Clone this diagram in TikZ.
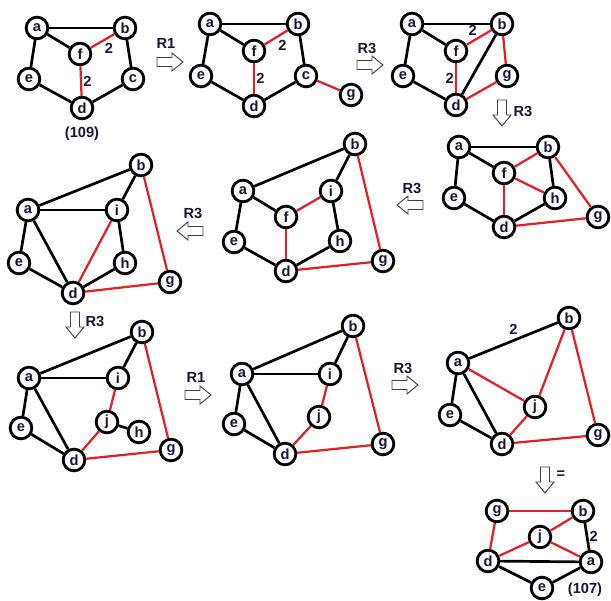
\documentclass[tikz,border=0pt]{standalone}
\usepackage{fontspec}
\setmainfont{Liberation Sans}

\definecolor{edgered}{RGB}{228,30,38}
\definecolor{ink}{RGB}{22,22,55}

\tikzset{
	vert/.style={draw, circle, fill=white, line width=2.4pt, minimum size=0.65cm,
		inner sep=0pt, text=ink, font=\bfseries\fontsize{12.5}{12.5}\selectfont},
	ln/.style={line width=2.3pt},
	hl/.style={line width=1.9pt, draw=edgered},
	lbl/.style={text=ink, inner sep=1pt, font=\bfseries\fontsize{12.5}{12.5}\selectfont},
	rarr/.pic={\draw[line width=0.8pt, draw=black!75, fill=white]
		(-13,-4.5) -- (2,-4.5) -- (2,-9) -- (13,0) -- (2,9) -- (2,4.5) -- (-13,4.5) -- cycle;}
}

\begin{document}
\begin{tikzpicture}[x=0.03cm, y=-0.03cm]
	\useasboundingbox (0,0) rectangle (611,601);

	% (109)
	\node[vert] (a1) at (37,28) {a};
	\node[vert] (b1) at (125,28) {b};
	\node[vert] (f1) at (80,54) {f};
	\node[vert] (e1) at (29,79) {e};
	\node[vert] (c1) at (133,79) {c};
	\node[vert] (d1) at (82,108) {d};
	\draw[ln] (a1) -- (b1);
	\draw[ln] (a1) -- (f1);
	\draw[ln] (a1) -- (e1);
	\draw[ln] (e1) -- (d1);
	\draw[ln] (b1) -- (c1);
	\draw[ln] (c1) -- (d1);
	\draw[hl] (f1) -- node[lbl, below right] (w1a) {2} (b1);
	\draw[hl] (f1) -- node[lbl, right] (w1b) {2} (d1);
	\node[lbl] (n109) at (82,134) {(109)};

	\pic at (170,62) {rarr};
	\node[lbl] (r1) at (166,43) {R1};

	\node[vert] (a2) at (210,24) {a};
	\node[vert] (b2) at (298,24) {b};
	\node[vert] (f2) at (254,51) {f};
	\node[vert] (e2) at (201,76) {e};
	\node[vert] (c2) at (306,76) {c};
	\node[vert] (d2) at (254,106) {d};
	\node[vert] (g2) at (351,95) {g};
	\draw[ln] (a2) -- (b2);
	\draw[ln] (a2) -- (f2);
	\draw[ln] (a2) -- (e2);
	\draw[ln] (e2) -- (d2);
	\draw[ln] (b2) -- (c2);
	\draw[ln] (c2) -- (d2);
	\draw[hl] (f2) -- node[lbl, below right] (w2a) {2} (b2);
	\draw[hl] (f2) -- node[lbl, right] (w2b) {2} (d2);
	\draw[hl] (c2) -- (g2);

	\pic at (370,65) {rarr};
	\node[lbl] (r2) at (367,48) {R3};

	\node[vert] (a3) at (412,24) {a};
	\node[vert] (b3) at (502,24) {b};
	\node[vert] (f3) at (456,51) {f};
	\node[vert] (e3) at (403,76) {e};
	\node[vert] (g3) at (507,76) {g};
	\node[vert] (d3) at (456,105) {d};
	\draw[ln] (a3) -- (b3);
	\draw[ln] (a3) -- (f3);
	\draw[ln] (a3) -- (e3);
	\draw[ln] (e3) -- (d3);
	\draw[ln] (b3) -- (d3);
	\draw[hl] (f3) -- node[lbl, above left] (w3a) {2} (b3);
	\draw[hl] (f3) -- node[lbl, left] (w3b) {2} (d3);
	\draw[hl] (b3) -- (g3);
	\draw[hl] (g3) -- (d3);

	\pic[rotate=-90] at (502,113) {rarr};
	\node[lbl] (r3) at (523,111) {R3};

	\node[vert] (a4) at (459,147) {a};
	\node[vert] (b4) at (548,147) {b};
	\node[vert] (f4) at (504,173) {f};
	\node[vert] (e4) at (454,198) {e};
	\node[vert] (h4) at (555,198) {h};
	\node[vert] (d4) at (504,227) {d};
	\node[vert] (g4) at (598,217) {g};
	\draw[ln] (a4) -- (b4);
	\draw[ln] (a4) -- (f4);
	\draw[ln] (a4) -- (e4);
	\draw[ln] (e4) -- (d4);
	\draw[ln] (b4) -- (h4);
	\draw[ln] (h4) -- (d4);
	\draw[hl] (b4) -- (f4);
	\draw[hl] (f4) -- (h4);
	\draw[hl] (f4) -- (d4);
	\draw[hl] (b4) -- (g4);
	\draw[hl] (d4) -- (g4);

	\pic[rotate=180] at (410,205) {rarr};
	\node[lbl] (r4) at (412,188) {R3};

	\node[vert] (b5) at (355,144) {b};
	\node[vert] (a5) at (243,191) {a};
	\node[vert] (i5) at (331,191) {i};
	\node[vert] (f5) at (286,217) {f};
	\node[vert] (e5) at (234,242) {e};
	\node[vert] (h5) at (340,241) {h};
	\node[vert] (d5) at (286,271) {d};
	\node[vert] (g5) at (383,261) {g};
	\draw[ln] (a5) -- (b5);
	\draw[ln] (a5) -- (f5);
	\draw[ln] (a5) -- (e5);
	\draw[ln] (e5) -- (d5);
	\draw[ln] (b5) -- (i5);
	\draw[ln] (i5) -- (h5);
	\draw[ln] (h5) -- (d5);
	\draw[hl] (f5) -- (i5);
	\draw[hl] (f5) -- (d5);
	\draw[hl] (b5) -- (g5);
	\draw[hl] (d5) -- (g5);

	\pic[rotate=180] at (190,231) {rarr};
	\node[lbl] (r5) at (193,213) {R3};

	\node[vert] (b6) at (141,165) {b};
	\node[vert] (a6) at (28,210) {a};
	\node[vert] (i6) at (117,210) {i};
	\node[vert] (e6) at (19,263) {e};
	\node[vert] (h6) at (125,263) {h};
	\node[vert] (d6) at (73,293) {d};
	\node[vert] (g6) at (170,282) {g};
	\draw[ln] (a6) -- (b6);
	\draw[ln] (a6) -- (i6);
	\draw[ln] (a6) -- (e6);
	\draw[ln] (a6) -- (d6);
	\draw[ln] (e6) -- (d6);
	\draw[ln] (b6) -- (i6);
	\draw[ln] (i6) -- (h6);
	\draw[ln] (h6) -- (d6);
	\draw[hl] (i6) -- (d6);
	\draw[hl] (b6) -- (g6);
	\draw[hl] (d6) -- (g6);

	\pic[rotate=-90] at (75,325) {rarr};
	\node[lbl] (r6) at (95,321) {R3};

	\node[vert] (b7) at (142,332) {b};
	\node[vert] (a7) at (29,378) {a};
	\node[vert] (i7) at (118,378) {i};
	\node[vert] (j7) at (107,422) {j};
	\node[vert] (h7) at (139,432) {h};
	\node[vert] (e7) at (21,428) {e};
	\node[vert] (d7) at (74,460) {d};
	\node[vert] (g7) at (171,450) {g};
	\draw[ln] (a7) -- (b7);
	\draw[ln] (a7) -- (i7);
	\draw[ln] (a7) -- (e7);
	\draw[ln] (a7) -- (d7);
	\draw[ln] (e7) -- (d7);
	\draw[ln] (b7) -- (i7);
	\draw[ln] (j7) -- (h7);
	\draw[hl] (i7) -- (j7);
	\draw[hl] (j7) -- (d7);
	\draw[hl] (b7) -- (g7);
	\draw[hl] (d7) -- (g7);

	\pic at (198,395) {rarr};
	\node[lbl] (r7) at (196,377) {R1};

	\node[vert] (b8) at (353,326) {b};
	\node[vert] (a8) at (242,374) {a};
	\node[vert] (i8) at (330,374) {i};
	\node[vert] (j8) at (319,417) {j};
	\node[vert] (e8) at (234,424) {e};
	\node[vert] (d8) at (285,454) {d};
	\node[vert] (g8) at (383,444) {g};
	\draw[ln] (a8) -- (b8);
	\draw[ln] (a8) -- (i8);
	\draw[ln] (a8) -- (e8);
	\draw[ln] (a8) -- (d8);
	\draw[ln] (e8) -- (d8);
	\draw[ln] (b8) -- (i8);
	\draw[hl] (i8) -- (j8);
	\draw[hl] (j8) -- (d8);
	\draw[hl] (b8) -- (g8);
	\draw[hl] (d8) -- (g8);

	\pic at (405,385) {rarr};
	\node[lbl] (r8) at (403,368) {R3};

	\node[vert] (b9) at (569,318) {b};
	\node[vert] (a9) at (458,363) {a};
	\node[vert] (j9) at (535,407) {j};
	\node[vert] (e9) at (450,415) {e};
	\node[vert] (d9) at (502,444) {d};
	\node[vert] (g9) at (598,435) {g};
	\draw[ln] (a9) -- node[lbl, above=3pt] (w9) {2} (b9);
	\draw[ln] (a9) -- (e9);
	\draw[ln] (a9) -- (d9);
	\draw[ln] (e9) -- (d9);
	\draw[hl] (a9) -- (j9);
	\draw[hl] (b9) -- (j9);
	\draw[hl] (j9) -- (d9);
	\draw[hl] (b9) -- (g9);
	\draw[hl] (d9) -- (g9);

	\pic[rotate=-90] at (545,480) {rarr};
	\node[lbl] (eq) at (561,475) {=};

	% (107)
	\node[vert] (g10) at (497,511) {g};
	\node[vert] (b10) at (583,511) {b};
	\node[vert] (j10) at (540,537) {j};
	\node[vert] (d10) at (488,561) {d};
	\node[vert] (a10) at (591,562) {a};
	\node[vert] (e10) at (542,588) {e};
	\draw[ln] (d10) -- (a10);
	\draw[ln] (b10) -- node[lbl, right] (w10) {2} (a10);
	\draw[ln] (d10) -- (e10);
	\draw[ln] (e10) -- (a10);
	\draw[hl] (g10) -- (b10);
	\draw[hl] (g10) -- (d10);
	\draw[hl] (d10) -- (j10);
	\draw[hl] (j10) -- (b10);
	\draw[hl] (j10) -- (a10);
	\node[lbl] (n107) at (585,590) {(107)};
\end{tikzpicture}
\end{document}
